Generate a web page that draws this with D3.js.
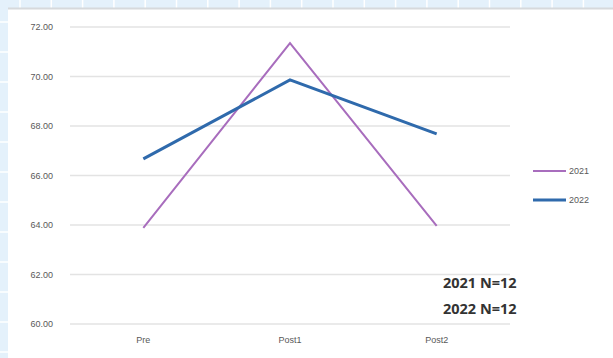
<!DOCTYPE html>
<html><head><meta charset="utf-8">
<script src="https://cdn.jsdelivr.net/npm/d3@7"></script>
<style>html,body{margin:0;padding:0;background:#fff;}svg{display:block;}</style>
</head><body>
<svg id="c" width="613" height="358"></svg>
<script>
const categories = ["Pre", "Post1", "Post2"];
const seriesNames = ["2021", "2022"];
const values2021 = [63.88, 71.35, 63.96];
const values2022 = [66.67, 69.86, 67.68];
const yTicks = [60, 62, 64, 66, 68, 70, 72];
const notes = ["2021 N=12", "2022 N=12"];
const colors = ["#a86dbd", "#2f6aac"];

(function () {
const svg = d3.select("#c");
const W = 613, H = 358;

// spreadsheet-like background
svg.append("rect").attr("width", W).attr("height", H).attr("fill", "#e4f1fb");
const bg = svg.append("g");
for (let xx = 20; xx < W; xx += 31.3) bg.append("line").attr("x1", xx).attr("x2", xx).attr("y1", 0).attr("y2", 8).attr("stroke", "#ffffff").attr("stroke-width", 1.5);
for (let yy = 22; yy < H; yy += 30) bg.append("line").attr("x1", 0).attr("x2", 8).attr("y1", yy).attr("y2", yy).attr("stroke", "#ffffff").attr("stroke-width", 1.5);
svg.append("rect").attr("x", 8).attr("y", 8).attr("width", W - 8).attr("height", H - 8).attr("fill", "#ffffff");
svg.append("line").attr("x1", 8).attr("x2", W).attr("y1", 8.5).attr("y2", 8.5).attr("stroke", "#d6d9dc").attr("stroke-width", 2);

const pLeft = 70, pRight = 510, pTop = 27, pBottom = 324;
const x = d3.scaleBand().domain(categories).range([pLeft, pRight]);
const y = d3.scaleLinear().domain([60, 72]).range([pBottom, pTop]);

// gridlines
svg.append("g").selectAll("line").data(yTicks).join("line")
  .attr("x1", pLeft).attr("x2", pRight)
  .attr("y1", d => y(d)).attr("y2", d => y(d))
  .attr("stroke", "#e3e3e3").attr("stroke-width", 1.5);

// y axis
const yAxis = d3.axisLeft(y).tickValues(yTicks).tickFormat(d3.format(".2f")).tickSize(0).tickPadding(0);
const gy = svg.append("g").attr("transform", `translate(53,0)`).call(yAxis);
gy.select(".domain").remove();
gy.selectAll("text").attr("fill", "#595959").attr("font-size", 9).attr("font-family", "Liberation Sans, Arial, sans-serif");

// x axis
const xAxis = d3.axisBottom(x).tickSize(0).tickPadding(0);
const gx = svg.append("g").attr("transform", `translate(0,${pBottom + 13})`).call(xAxis);
gx.select(".domain").remove();
gx.selectAll("text").attr("fill", "#595959").attr("font-size", 9).attr("font-family", "Liberation Sans, Arial, sans-serif");

// lines
const line = d3.line().x((d, i) => x(categories[i]) + x.bandwidth() / 2).y(d => y(d));
const data = [values2021, values2022];
const widths = [2, 3];
data.forEach((vals, i) => {
  svg.append("path").datum(vals).attr("d", line)
    .attr("fill", "none").attr("stroke", colors[i]).attr("stroke-width", widths[i])
    .attr("stroke-linejoin", "miter");
});

// legend
const lg = svg.append("g");
seriesNames.forEach((n, i) => {
  const ly = 171 + i * 29;
  lg.append("line").attr("x1", 533).attr("x2", 566).attr("y1", ly).attr("y2", ly)
    .attr("stroke", colors[i]).attr("stroke-width", widths[i]);
  lg.append("text").attr("x", 569).attr("y", ly + 3).text(n)
    .attr("fill", "#595959").attr("font-size", 9).attr("font-family", "Liberation Sans, Arial, sans-serif");
});

// notes
notes.forEach((t, i) => {
  svg.append("text").attr("x", 443).attr("y", 288 + i * 26).text(t)
    .attr("fill", "#333333").attr("font-size", 14.5).attr("font-weight", "bold")
    .attr("font-family", "Open Sans, Liberation Sans, sans-serif");
});
})();
</script>
</body></html>
